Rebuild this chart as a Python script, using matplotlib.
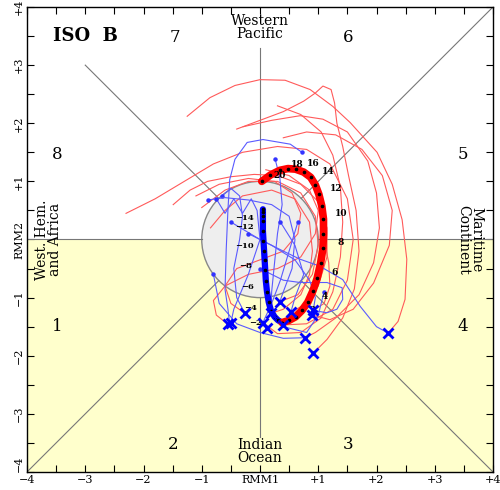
import numpy as np
import matplotlib.pyplot as plt
from matplotlib.patches import Circle

plt.rcParams['font.family'] = 'DejaVu Serif'

# ---- data (RMM1, RMM2) ----
obs_days = list(range(-15, 1))
obs_x = [0.05, 0.05, 0.05, 0.05, 0.05, 0.06, 0.07, 0.08, 0.09, 0.10, 0.12, 0.15, 0.19, 0.25, 0.31, 0.38]
obs_y = [0.52, 0.47, 0.40, 0.32, 0.15, -0.02, -0.19, -0.36, -0.53, -0.71, -0.90, -1.08, -1.23, -1.33, -1.39, -1.43]

fc_days = list(range(0, 21))
fc_x = [0.38, 0.50, 0.61, 0.72, 0.82, 0.91, 0.98, 1.04, 1.08, 1.09, 1.09, 1.06, 1.01, 0.95, 0.87, 0.75, 0.61, 0.48, 0.34, 0.18, 0.03]
fc_y = [-1.43, -1.39, -1.33, -1.22, -1.08, -0.88, -0.67, -0.41, -0.15, 0.10, 0.35, 0.58, 0.78, 0.94, 1.07, 1.16, 1.21, 1.22, 1.19, 1.11, 1.00]

# analog start points (blue X)
x_pts = [-0.55, -0.50, -0.26, 0.05, 0.12, 0.19, 0.34, 0.40, 0.53, 0.90, 0.91, 0.77, 0.91, 2.20]
y_pts = [-1.46, -1.43, -1.27, -1.43, -1.53, -1.27, -1.07, -1.47, -1.25, -1.30, -1.22, -1.69, -1.96, -1.61]

# analog futures (thin red)
red_members = [
    [(2.2, -1.61), (2.37, -1.41), (2.49, -1.03), (2.52, -0.34), (2.44, 0.34), (2.27, 0.95), (2.01, 1.5),
     (1.55, 2.01), (1.25, 2.29), (0.86, 2.58), (0.43, 2.74), (0.0, 2.75), (-0.43, 2.65), (-0.86, 2.44), (-1.25, 2.12)],
    [(0.91, -1.96), (1.15, -1.72), (1.42, -1.35), (1.62, -0.85), (1.7, -0.2), (1.65, 0.5), (1.52, 1.1),
     (1.42, 1.6), (1.32, 2.0), (1.28, 2.35), (1.22, 2.58), (1.08, 2.64), (0.95, 2.52), (0.75, 2.38),
     (0.4, 2.2), (0.0, 2.05), (-0.4, 1.9)],
    [(0.77, -1.69), (0.95, -1.6), (1.3, -1.35), (1.7, -0.95), (1.95, -0.4), (2.05, 0.2), (2.0, 0.8),
     (1.85, 1.35), (1.5, 1.85), (1.08, 2.07), (0.69, 2.13), (0.2, 2.05), (-0.29, 1.94)],
    [(0.9, -1.3), (1.2, -1.38), (1.6, -1.2), (1.95, -0.75), (2.22, -0.1), (2.27, 0.5), (2.1, 1.1),
     (1.75, 1.55), (1.3, 1.8), (0.8, 1.85), (0.4, 1.75)],
    [(0.53, -1.25), (0.8, -1.1), (1.0, -0.8), (1.15, -0.3), (1.15, 0.2), (1.0, 0.65), (0.7, 0.95),
     (0.3, 1.1), (-0.1, 1.12), (-0.5, 1.08), (-0.9, 1.0), (-1.2, 0.85), (-1.49, 0.6)],
    [(0.34, -1.07), (0.65, -0.95), (0.9, -0.6), (1.0, -0.1), (0.95, 0.4), (0.7, 0.8), (0.3, 1.0),
     (-0.2, 1.0), (-0.6, 0.85), (-1.0, 0.55)],
    [(0.4, -1.47), (0.8, -1.45), (1.25, -1.2), (1.5, -0.7), (1.6, 0.0), (1.5, 0.7), (1.2, 1.3),
     (0.8, 1.55), (0.3, 1.6), (-0.3, 1.5), (-0.8, 1.3), (-1.3, 1.0), (-1.8, 0.7), (-2.3, 0.45)],
    [(-0.55, -1.46), (-0.75, -1.3), (-0.8, -1.05), (-0.6, -0.8), (-0.2, -0.6), (0.3, -0.5), (0.7, -0.3),
     (0.95, 0.1), (1.0, 0.5), (0.85, 0.85), (0.5, 1.1), (0.1, 1.2)],
    [(0.05, -1.43), (0.3, -1.62), (0.7, -1.6), (1.05, -1.35), (1.25, -0.9), (1.38, -0.3), (1.42, 0.3),
     (1.38, 0.9), (1.25, 1.45), (1.05, 1.85), (0.7, 2.15), (0.3, 2.3)],
    [(0.19, -1.27), (0.4, -1.2), (0.7, -0.95), (0.85, -0.6), (0.9, -0.2), (0.85, 0.3), (0.6, 0.7),
     (0.2, 0.85), (-0.3, 0.75), (-0.6, 0.5), (-0.85, 0.2)],
    [(-0.26, -1.27), (-0.5, -1.1), (-0.6, -0.8), (-0.4, -0.5), (0.0, -0.35), (0.4, -0.2), (0.65, 0.1),
     (0.7, 0.45), (0.55, 0.8), (0.25, 1.0), (-0.2, 1.05), (-0.7, 0.95), (-1.1, 0.75)],
    [(0.91, -1.22), (1.1, -1.1), (1.2, -0.8), (1.18, -0.4), (1.1, 0.0)],
]

# analog pasts (thin blue)
blue_members = [
    [(-0.5, 0.3), (0.0, 0.0), (0.4, -0.2), (0.69, -0.34), (1.03, -0.46), (1.42, -0.69), (1.72, -1.15),
     (2.0, -1.5), (2.2, -1.61)],
    [(0.72, 1.5), (0.52, 1.64), (0.05, 1.72), (-0.22, 1.67), (-0.43, 1.38), (-0.52, 1.03), (-0.55, 0.52),
     (-0.58, -0.17), (-0.6, -0.86), (-0.55, -1.2), (-0.52, -1.46)],
    [(-0.65, 0.75), (-0.5, 0.88), (-0.35, 0.75), (-0.3, 0.4), (-0.35, 0.0), (-0.45, -0.5), (-0.4, -1.0),
     (-0.26, -1.27)],
    [(-0.9, 0.68), (-0.6, 0.72), (-0.2, 0.68), (0.2, 0.6), (0.5, 0.4), (0.6, 0.0), (0.55, -0.5),
     (0.4, -0.9), (0.34, -1.07)],
    [(0.26, 1.38), (0.34, 1.07), (0.38, 0.6), (0.3, 0.1), (0.25, -0.4), (0.2, -0.9), (0.19, -1.27)],
    [(-0.2, 0.1), (0.2, -0.1), (0.6, -0.35), (0.85, -0.7), (0.95, -1.0), (0.9, -1.3)],
    [(0.65, 0.3), (0.5, -0.2), (0.35, -0.7), (0.2, -1.1), (0.05, -1.43)],
    [(-0.8, -0.6), (-0.7, -1.1), (-0.4, -1.45), (0.0, -1.6), (0.4, -1.7), (0.77, -1.69)],
    [(0.0, -0.5), (0.4, -0.7), (0.69, -0.74), (1.15, -0.74), (1.41, -0.83), (1.42, -1.03), (1.32, -1.2),
     (1.15, -1.26), (0.91, -1.22)],
    [(-0.75, 0.7), (-0.6, 0.45), (-0.45, 0.7), (-0.3, 0.45), (-0.15, 0.7), (-0.05, 0.5), (0.0, 0.0),
     (-0.2, -0.6), (-0.45, -1.2), (-0.5, -1.43)],
    [(0.35, 0.3), (0.6, -0.1), (0.75, -0.6), (0.6, -1.0), (0.53, -1.25)],
    [(1.1, -0.9), (1.0, -1.3), (0.8, -1.6), (0.4, -1.5)],
]

phase_nums = ['1', '2', '3', '4', '5', '6', '7', '8']
phase_x = [-3.48, -1.49, 1.51, 3.48, 3.48, 1.51, -1.46, -3.48]
phase_y = [-1.5, -3.53, -3.53, -1.5, 1.46, 3.48, 3.48, 1.46]

tick_vals = [-4, -3, -2, -1, 0, 1, 2, 3, 4]
xtick_labels = ['\u22124', '\u22123', '\u22122', '\u22121', 'RMM1', '+1', '+2', '+3', '+4']
ytick_labels = ['\u22124', '\u22123', '\u22122', '\u22121', 'RMM2', '+1', '+2', '+3', '+4']

# ---- figure ----
fig = plt.figure(figsize=(5, 4.9), dpi=100)
ax = fig.add_axes([27 / 500, 1 - 472 / 490, 466 / 500, 465 / 490])
ax.set_xlim(-4, 4)
ax.set_ylim(-4, 4)

ax.axhspan(-4, 0, color='#ffffcc', zorder=0, lw=0)
ax.add_patch(Circle((0, 0), 1, fc='#eeeeee', ec='#888888', lw=1, zorder=1))

gc = '#777777'
r = np.sqrt(0.5)
for (x0, y0), (x1, y1) in [((-4, 0), (-1, 0)), ((1, 0), (4, 0)), ((0, 1), (0, 3.3)), ((0, -1), (0, -3.4)),
                           ((-3, 3), (-r, r)), ((4, 4), (r, r)), ((-4, -4), (-r, -r)), ((4, -4), (r, -r))]:
    ax.plot([x0, x1], [y0, y1], color=gc, lw=0.8, zorder=2)

for m in red_members:
    xs, ys = zip(*m)
    ax.plot(xs, ys, color='#ff5a5a', lw=0.8, zorder=3, solid_joinstyle='round')
for m in blue_members:
    xs, ys = zip(*m)
    ax.plot(xs, ys, color='#5a5aff', lw=0.8, zorder=3, solid_joinstyle='round')
    ax.plot(xs[0], ys[0], 'o', color='#3333ff', ms=2.2, zorder=3)

ax.plot(obs_x, obs_y, color='#0000ff', lw=4.5, solid_capstyle='round', zorder=4)
ax.plot(fc_x, fc_y, color='#ff0000', lw=5.5, solid_capstyle='round', zorder=4)
ax.plot(obs_x, obs_y, 'o', color='black', ms=1.6, zorder=5)
ax.plot(fc_x, fc_y, 'o', color='black', ms=1.6, zorder=5)

for d, x, y in zip(obs_days, obs_x, obs_y):
    if d % 2 == 0 and d < 0:
        ax.text(x - 0.32, y - 0.1, str(d).replace('-', '\u2212'), fontsize=6, fontweight='bold',
                ha='center', va='center', zorder=6)
for d, x, y in zip(fc_days, fc_x, fc_y):
    if d % 2 == 0 and d > 0:
        ax.text(x + 0.3, y + 0.1, str(d), fontsize=6.5, fontweight='bold', ha='center', va='center', zorder=6)

ax.plot(x_pts, y_pts, 'x', color='#0000ff', ms=7, mew=2, zorder=7)

for t, x, y in zip(phase_nums, phase_x, phase_y):
    ax.text(x, y, t, fontsize=12, ha='center', va='center')

ax.text(0, 3.65, 'Western\nPacific', fontsize=10, ha='center', va='center', linespacing=0.95)
ax.text(0, -3.65, 'Indian\nOcean', fontsize=10, ha='center', va='center', linespacing=0.95)
ax.text(-3.63, 0, 'West. Hem.\nand Africa', fontsize=10, ha='center', va='center', rotation=90,
        linespacing=0.95)
ax.text(3.6, 0, 'Maritime\nContinent', fontsize=10, ha='center', va='center', rotation=-90,
        linespacing=0.95)
ax.text(-3.0, 3.5, 'ISO  B', fontsize=13, fontweight='bold', ha='center', va='center')

ax.set_xticks(tick_vals)
ax.set_xticklabels(xtick_labels, fontsize=8)
ax.set_yticks(tick_vals)
ax.set_yticklabels(ytick_labels, fontsize=8, rotation=90, va='center')
ax.get_yticklabels()[0].set_va('bottom')
ax.set_xticks(np.arange(-3.5, 4, 1), minor=True)
ax.set_yticks(np.arange(-3.5, 4, 1), minor=True)
ax.tick_params(which='both', direction='in', length=5, top=True, right=True, width=0.8, pad=2)
for s in ax.spines.values():
    s.set_linewidth(1)

fig.savefig('out.png', dpi=100)
